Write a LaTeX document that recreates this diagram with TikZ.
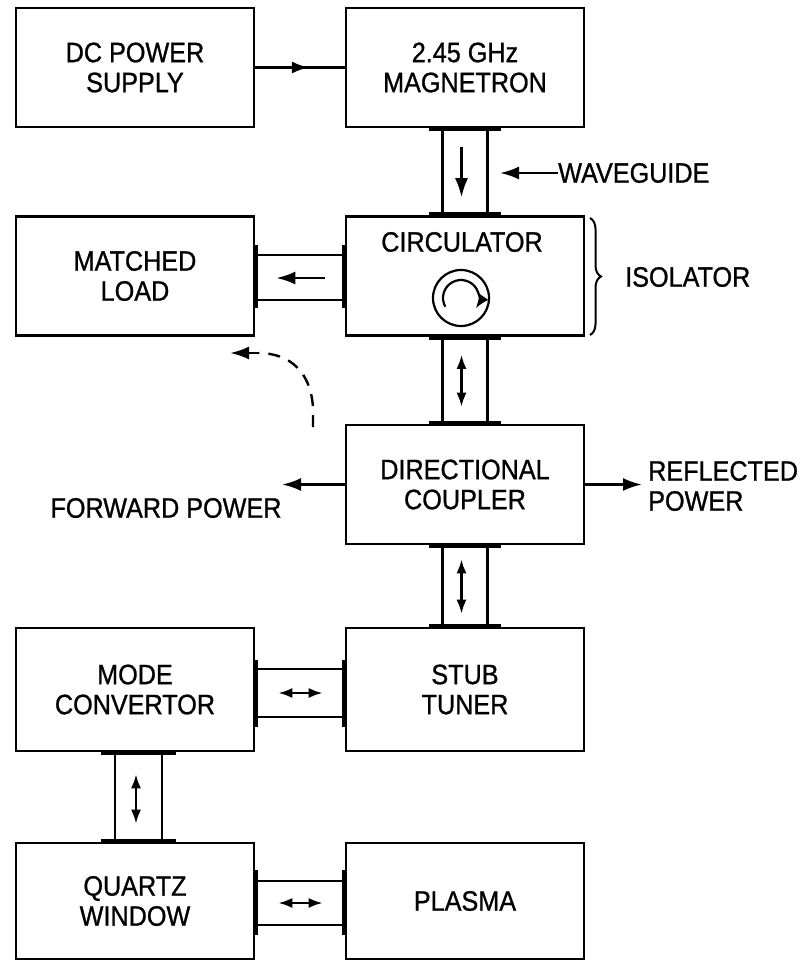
\documentclass[tikz,border=0pt]{standalone}
\usepackage{fontspec}
\setmainfont[FakeStretch=0.9,FakeBold=0.9]{Liberation Sans}
\usetikzlibrary{arrows.meta,calc,decorations.pathreplacing,decorations.markings}
\begin{document}
\begin{tikzpicture}[x=1pt,y=-1pt,
  blk/.style={draw,line width=2.6pt,minimum width=238pt,minimum height=119pt,inner sep=0pt,align=center,font=\fontsize{28}{30}\selectfont},
  wg/.style={line width=2.2pt},
  flange/.style={line width=4.5pt},
  tip/.style={-{Latex[length=19pt,width=13pt]},line width=2.6pt},
  dtip/.style={{Latex[length=14pt,width=10pt]}-{Latex[length=14pt,width=10pt]},line width=2.4pt},
  lbl/.style={font=\fontsize{28}{30}\selectfont,inner sep=0pt}]
\useasboundingbox (0,0) rectangle (808,961);

% boxes
\node[blk] (dc) at (135,67.5) {DC POWER\\SUPPLY};
\node[blk] (mag) at (465,67.5) {2.45 GHz\\MAGNETRON};
\node[blk] (load) at (135,276) {MATCHED\\LOAD};
\node[blk] (circ) at (465,276) {};
\node[lbl] (circt) at (462,242) {CIRCULATOR};
\node[blk] (coup) at (465,484.5) {DIRECTIONAL\\COUPLER};
\node[blk,minimum height=123pt] (mode) at (135,689.5) {MODE\\CONVERTOR};
\node[blk,minimum height=123pt] (stub) at (465,689.5) {STUB\\TUNER};
\node[blk,minimum height=116pt] (quartz) at (135,901) {QUARTZ\\WINDOW};
\node[blk,minimum height=116pt] (plasma) at (465,901) {PLASMA};

% circulator symbol
\node[circle,draw,line width=2.2pt,minimum size=56pt,inner sep=0pt] (csym) at (461,298) {};
\draw[line width=2.2pt,-{Latex[length=14pt,width=11pt]}] ($(csym.center)+(151:18)$) arc[start angle=151,end angle=395,radius=18];

% isolator brace
\draw[decorate,decoration={brace,amplitude=11pt},line width=2pt] (590,218) -- (590,335);
\node[lbl,anchor=west] (iso) at (625,277) {ISOLATOR};

% DC -> magnetron
\draw[line width=2.6pt,postaction={decorate},decoration={markings,mark=at position 0.6 with {\arrow{Latex[length=17pt,width=12pt]}}}] (dc.east) -- (mag.west);

% waveguide label
\node[lbl,anchor=west] (wglbl) at (558,173) {WAVEGUIDE};
\coordinate (wghead) at (500,173);
\draw[tip] (wglbl.west) -- (wghead);

% vertical waveguide mag -> circ
\draw[wg] ($(mag.south)+(-22.5,0)$) -- ($(circ.north)+(-22.5,0)$);
\draw[wg] ($(mag.south)+(22.5,0)$) -- ($(circ.north)+(22.5,0)$);
\draw[flange] ($(mag.south)+(-36,0.5)$) -- ($(mag.south)+(36,0.5)$);
\draw[flange] ($(circ.north)+(-36,-0.5)$) -- ($(circ.north)+(36,-0.5)$);
\draw[tip,line width=2.2pt] ($(mag.south)+(-3.5,19)$) -- ($(circ.north)+(-3.5,-18)$);

% vertical waveguide circ -> coup
\draw[wg] ($(circ.south)+(-22.5,0)$) -- ($(coup.north)+(-22.5,0)$);
\draw[wg] ($(circ.south)+(22.5,0)$) -- ($(coup.north)+(22.5,0)$);
\draw[flange] ($(circ.south)+(-36,0.5)$) -- ($(circ.south)+(36,0.5)$);
\draw[flange] ($(coup.north)+(-36,-0.5)$) -- ($(coup.north)+(36,-0.5)$);
\draw[dtip] ($(circ.south)+(-3.5,18)$) -- ($(coup.north)+(-3.5,-17)$);

% vertical waveguide coup -> stub
\draw[wg] ($(coup.south)+(-22.5,0)$) -- ($(stub.north)+(-22.5,0)$);
\draw[wg] ($(coup.south)+(22.5,0)$) -- ($(stub.north)+(22.5,0)$);
\draw[flange] ($(coup.south)+(-36,0.5)$) -- ($(coup.south)+(36,0.5)$);
\draw[flange] ($(stub.north)+(-36,-0.5)$) -- ($(stub.north)+(36,-0.5)$);
\draw[dtip] ($(coup.south)+(-3.5,14)$) -- ($(stub.north)+(-3.5,-13)$);

% horizontal waveguide load <- circ
\draw[wg] ($(load.east)+(0,-21)$) -- ($(circ.west)+(0,-21)$);
\draw[wg] ($(load.east)+(0,24)$) -- ($(circ.west)+(0,24)$);
\draw[flange] ($(load.east)+(0.5,-31)$) -- ($(load.east)+(0.5,32)$);
\draw[flange] ($(circ.west)+(-0.5,-31)$) -- ($(circ.west)+(-0.5,32)$);
\draw[tip] ($(circ.west)+(-20,2)$) -- ($(load.east)+(21,2)$);

% horizontal waveguide mode <-> stub
\draw[wg] ($(mode.east)+(0,-20.5)$) -- ($(stub.west)+(0,-20.5)$);
\draw[wg] ($(mode.east)+(0,27.5)$) -- ($(stub.west)+(0,27.5)$);
\draw[flange] ($(mode.east)+(0.5,-29.5)$) -- ($(mode.east)+(0.5,37.5)$);
\draw[flange] ($(stub.west)+(-0.5,-29.5)$) -- ($(stub.west)+(-0.5,37.5)$);
\draw[dtip] ($(mode.east)+(23,3.5)$) -- ($(stub.west)+(-22,3.5)$);

% vertical waveguide mode <-> quartz
\draw[wg] ($(mode.south)+(-20,0)$) -- ($(quartz.north)+(-20,0)$);
\draw[wg] ($(mode.south)+(27,0)$) -- ($(quartz.north)+(27,0)$);
\draw[flange] ($(mode.south)+(-34,0.5)$) -- ($(mode.south)+(41,0.5)$);
\draw[flange] ($(quartz.north)+(-34,-0.5)$) -- ($(quartz.north)+(41,-0.5)$);
\draw[dtip] ($(mode.south)+(1,22)$) -- ($(quartz.north)+(1,-18)$);

% horizontal waveguide quartz <-> plasma
\draw[wg] ($(quartz.east)+(0,-20)$) -- ($(plasma.west)+(0,-20)$);
\draw[wg] ($(quartz.east)+(0,24)$) -- ($(plasma.west)+(0,24)$);
\draw[flange] ($(quartz.east)+(0.5,-31)$) -- ($(quartz.east)+(0.5,34)$);
\draw[flange] ($(plasma.west)+(-0.5,-31)$) -- ($(plasma.west)+(-0.5,34)$);
\draw[dtip] ($(quartz.east)+(23,2)$) -- ($(plasma.west)+(-22,2)$);

% coupler outputs
\coordinate (fwd) at (282,484.5);
\coordinate (refl) at (642,484.5);
\draw[tip] (coup.west) -- (fwd);
\draw[tip] (coup.east) -- (refl);
\node[lbl] (fwdlbl) at (166,508) {FORWARD POWER};
\node[lbl,anchor=west,align=left] (refllbl) at (648,486) {REFLECTED\\POWER};

% dashed feedback curve
\coordinate (dstart) at (313,427);
\coordinate (dmid) at (258,353);
\coordinate (dend) at (230,353);
\draw[dash pattern=on 12pt off 9pt,line width=2.4pt] (dstart) -- (313,408) .. controls (311,372) and (290,353) .. (dmid);
\draw[tip] (dmid) -- (dend);
\end{tikzpicture}
\end{document}
